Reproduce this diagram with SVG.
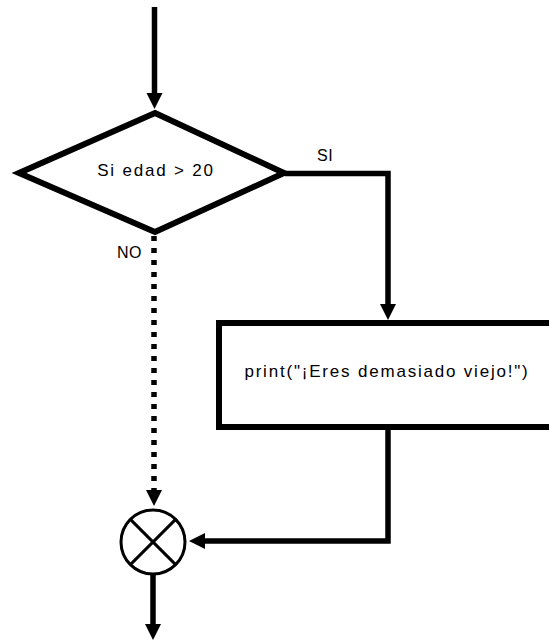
<svg xmlns="http://www.w3.org/2000/svg" width="549" height="640" viewBox="0 0 549 640">
  <defs>
    <marker id="arrow" markerUnits="userSpaceOnUse" markerWidth="17" markerHeight="17" refX="0" refY="8" orient="auto" overflow="visible">
      <path d="M0,0 L16,8 L0,16 Z" fill="#000"/>
    </marker>
    <style>
      .edge { fill: none; stroke: #000; stroke-width: 5.5; stroke-linejoin: miter; marker-end: url(#arrow); }
      .dashed { stroke-dasharray: 5 7; }
      .shape { fill: #fff; stroke: #000; stroke-width: 6; stroke-linejoin: miter; stroke-miterlimit: 10; }
      .thin { fill: #fff; stroke: #000; stroke-width: 3; }
      .label { font-family: "Liberation Sans", Arial, sans-serif; font-size: 17px; letter-spacing: 1.8px; fill: #000; }
      .small { font-family: "Liberation Sans", Arial, sans-serif; font-size: 16px; letter-spacing: 0.5px; fill: #000; }
    </style>
  </defs>
  <rect x="0" y="0" width="549" height="640" fill="#fff"/>

  <g id="connectors">
    <path class="edge" d="M154.5,7 L154.5,93"/>
    <path class="edge" d="M285,173.5 L388,173.5 L388,304"/>
    <path class="edge" d="M388,427 L388,541 L205,541"/>
    <path class="edge dashed" d="M154,236 L154,490"/>
    <path class="edge" d="M153,575 L153,624"/>
  </g>

  <g id="decision">
    <polygon class="shape" points="155,113 284,173 155,232 19,173"/>
    <text class="label" x="156" y="176" text-anchor="middle">Si edad &gt; 20</text>
  </g>

  <g id="label-si">
    <text class="small" x="317" y="161">SI</text>
  </g>
  <g id="label-no">
    <text class="small" x="117" y="258">NO</text>
  </g>

  <g id="process">
    <rect class="shape" x="219" y="323" width="345" height="104"/>
    <text class="label" x="387" y="377" text-anchor="middle">print("¡Eres demasiado viejo!")</text>
  </g>

  <g id="junction">
    <circle class="thin" cx="153" cy="542" r="32"/>
    <line x1="130.4" y1="519.4" x2="175.6" y2="564.6" stroke="#000" stroke-width="3"/>
    <line x1="175.6" y1="519.4" x2="130.4" y2="564.6" stroke="#000" stroke-width="3"/>
  </g>
</svg>
